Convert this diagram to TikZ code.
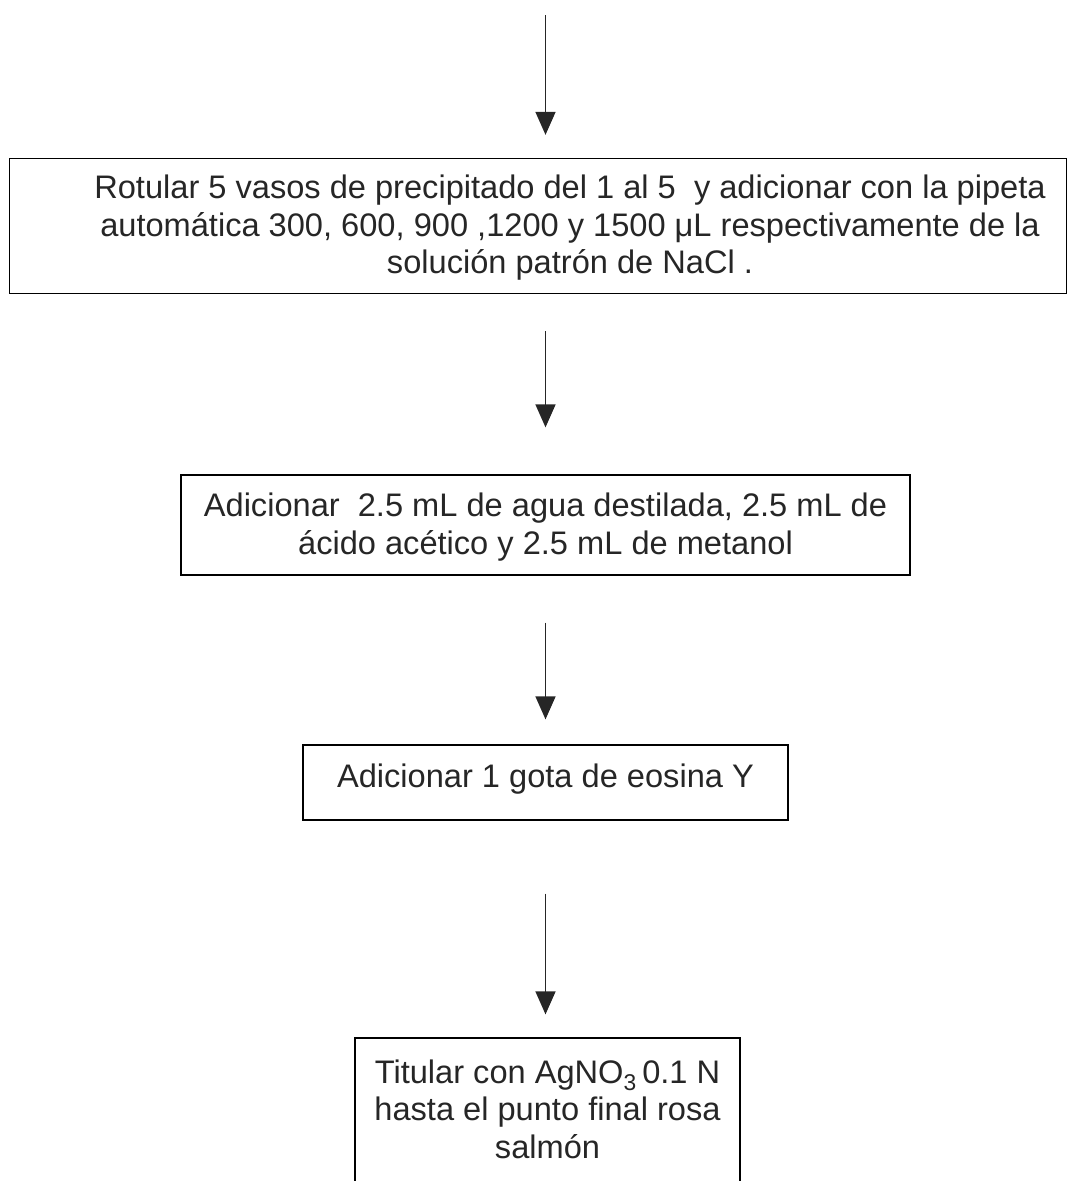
\documentclass[tikz,border=0pt]{standalone}
\usepackage{fontspec}
\setmainfont{Liberation Sans}
\usetikzlibrary{arrows.meta}
\begin{document}
\begin{tikzpicture}[x=1pt,y=-1pt,
  box/.style={draw=black, line width=1.3pt, inner sep=0pt, anchor=center},
  txt/.style={align=center, inner sep=0pt, text=black!85, font=\fontsize{32.6}{37.5}\selectfont},
  arr/.style={draw=black!85, line width=1.5pt, -{Triangle[width=20pt,length=23pt]}}]
\useasboundingbox (0,0) rectangle (1067,1181);
\clip (0,0) rectangle (1067,1181);
\coordinate (top) at (545.5,15);
\node[box, minimum width=1057pt, minimum height=135pt] (b1) at (538,226) {};
\node[txt] (t1) at (570,228) {Rotular 5 vasos de precipitado del 1 al 5\ \ y adicionar con la pipeta\\automática 300, 600, 900 ,1200 y 1500 μL respectivamente de la\\solución patrón de NaCl .};
\node[box, minimum width=729pt, minimum height=100pt] (b2) at (545.5,525) {};
\node[txt] at (545.5,527) {Adicionar\ \ 2.5 mL de agua destilada, 2.5 mL de\\ácido acético y 2.5 mL de metanol};
\node[box, minimum width=485pt, minimum height=75pt] (b3) at (545.5,782.5) {};
\node[txt] at (545.5,779) {Adicionar 1 gota de eosina Y};
\node[box, minimum width=385pt, minimum height=200pt] (b4) at (547.5,1138) {};
\node[txt] at (547.5,1109) {Titular con AgNO\textsubscript{3}\,0.1 N\\hasta el punto final rosa\\salmón};
\draw[arr, shorten >=23pt] (top) -- (top |- b1.north);
\draw[arr, shorten <=37pt, shorten >=47pt] (top |- b1.south) -- (top |- b2.north);
\draw[arr, shorten <=47pt, shorten >=25pt] (top |- b2.south) -- (top |- b3.north);
\draw[arr, shorten <=73pt, shorten >=23pt] (top |- b3.south) -- (top |- b4.north);
\end{tikzpicture}
\end{document}
